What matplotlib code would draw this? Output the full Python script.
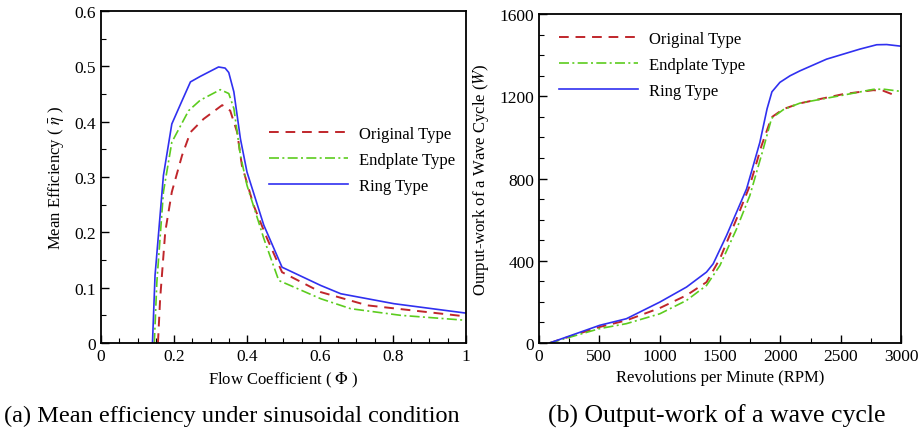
import numpy as np
import matplotlib
matplotlib.use("Agg")
import matplotlib.pyplot as plt
from matplotlib.ticker import MultipleLocator

plt.rcParams['font.family'] = ['Liberation Serif', 'DejaVu Serif']
plt.rcParams['mathtext.fontset'] = 'stix'

# (a) mean efficiency vs flow coefficient
phi_ring = [0.141, 0.148, 0.171, 0.194, 0.220, 0.245, 0.272, 0.322, 0.340, 0.350, 0.364, 0.382, 0.400, 0.446, 0.496, 0.602, 0.657, 0.803, 1.0]
eta_ring = [0.0, 0.122, 0.303, 0.396, 0.435, 0.472, 0.482, 0.499, 0.497, 0.489, 0.454, 0.369, 0.309, 0.213, 0.137, 0.104, 0.089, 0.071, 0.054]

phi_orig = [0.156, 0.162, 0.176, 0.194, 0.222, 0.245, 0.281, 0.332, 0.354, 0.373, 0.386, 0.418, 0.455, 0.496, 0.602, 0.730, 1.0]
eta_orig = [0.0, 0.080, 0.201, 0.273, 0.339, 0.381, 0.405, 0.430, 0.420, 0.381, 0.321, 0.249, 0.189, 0.128, 0.092, 0.068, 0.048]

phi_end = [0.146, 0.153, 0.171, 0.194, 0.240, 0.272, 0.327, 0.350, 0.364, 0.382, 0.400, 0.446, 0.487, 0.602, 0.684, 0.821, 1.0]
eta_end = [0.0, 0.110, 0.273, 0.363, 0.420, 0.439, 0.458, 0.451, 0.424, 0.339, 0.285, 0.189, 0.113, 0.080, 0.062, 0.050, 0.041]

# (b) output work vs rpm
rpm_ring = [88, 503, 724, 1001, 1222, 1388, 1443, 1554, 1720, 1830, 1890, 1930, 1996, 2080, 2162, 2383, 2660, 2798, 2881, 3000]
w_ring = [0, 86, 118, 199, 272, 345, 385, 523, 750, 976, 1140, 1222, 1268, 1300, 1324, 1381, 1430, 1451, 1452, 1444]

rpm_orig = [88, 503, 724, 1001, 1222, 1388, 1499, 1637, 1747, 1844, 1927, 2024, 2162, 2328, 2522, 2770, 2853, 2936]
w_orig = [0, 78, 110, 170, 232, 296, 410, 604, 766, 960, 1098, 1138, 1166, 1187, 1211, 1230, 1227, 1208]

rpm_end = [88, 503, 724, 1001, 1222, 1388, 1499, 1637, 1747, 1858, 1927, 2024, 2162, 2522, 2770, 2853, 3000]
w_end = [0, 70, 94, 142, 207, 280, 377, 555, 717, 944, 1093, 1135, 1167, 1206, 1234, 1235, 1224]

labels = ['Original Type', 'Endplate Type', 'Ring Type']
red = '#c0262b'
green = '#5ccc1e'
blue = '#3030f0'

fig = plt.figure(figsize=(9.2, 4.31), dpi=100)
ax1 = fig.add_axes([0.1098, 0.2019, 0.3967, 0.770])
ax2 = fig.add_axes([0.5859, 0.2019, 0.3935, 0.763])


def style_axis(ax):
    for s in ax.spines.values():
        s.set_linewidth(1.3)
    ax.tick_params(which='both', direction='in', top=False, right=False, labelsize=12.5)
    ax.tick_params(which='major', length=6, width=1.0)
    ax.tick_params(which='minor', length=3.5, width=0.8)


ax1.plot(phi_orig, eta_orig, color=red, ls=(0, (5, 3.5)), lw=1.4, label=labels[0])
ax1.plot(phi_end, eta_end, color=green, ls=(0, (6, 2, 1.2, 2)), lw=1.2, label=labels[1])
ax1.plot(phi_ring, eta_ring, color=blue, ls='-', lw=1.2, label=labels[2])
ax1.set_xlim(0, 1)
ax1.set_ylim(0, 0.6)
ax1.xaxis.set_minor_locator(MultipleLocator(0.05))
ax1.yaxis.set_minor_locator(MultipleLocator(0.05))
ax1.set_xticks([0, 0.2, 0.4, 0.6, 0.8, 1.0])
ax1.set_xticklabels(['0', '0.2', '0.4', '0.6', '0.8', '1'])
ax1.set_yticks([0, 0.1, 0.2, 0.3, 0.4, 0.5, 0.6])
ax1.set_yticklabels(['0', '0.1', '0.2', '0.3', '0.4', '0.5', '0.6'])
ax1.set_xlabel(r'Flow Coefficient ( $\Phi$ )', fontsize=12, labelpad=4)
ax1.set_ylabel(r'Mean Efficiency ( $\bar{\eta}$ )', fontsize=12, labelpad=6)
style_axis(ax1)
ax1.legend(loc='upper left', bbox_to_anchor=(0.42, 0.70), frameon=False, fontsize=12,
           handlelength=4.7, handletextpad=0.7, labelspacing=0.6)

ax2.plot(rpm_orig, w_orig, color=red, ls=(0, (5, 3.5)), lw=1.4, label=labels[0])
ax2.plot(rpm_end, w_end, color=green, ls=(0, (6, 2, 1.2, 2)), lw=1.2, label=labels[1])
ax2.plot(rpm_ring, w_ring, color=blue, ls='-', lw=1.2, label=labels[2])
ax2.set_xlim(0, 3000)
ax2.set_ylim(0, 1600)
ax2.xaxis.set_major_locator(MultipleLocator(500))
ax2.xaxis.set_minor_locator(MultipleLocator(250))
ax2.yaxis.set_major_locator(MultipleLocator(400))
ax2.yaxis.set_minor_locator(MultipleLocator(100))
ax2.set_xlabel('Revolutions per Minute (RPM)', fontsize=12, labelpad=4)
ax2.set_ylabel(r'Ourput-work of a Wave Cycle ($W$)', fontsize=12, labelpad=6)
style_axis(ax2)
ax2.legend(loc='upper left', bbox_to_anchor=(0.015, 0.995), frameon=False, fontsize=12,
           handlelength=4.7, handletextpad=0.7, labelspacing=0.6)

fig.text(0.252, 0.02, '(a) Mean efficiency under sinusoidal condition', ha='center', fontsize=17.5)
fig.text(0.779, 0.02, '(b) Output-work of a wave cycle', ha='center', fontsize=18.5)

fig.savefig('out.png', dpi=100)
